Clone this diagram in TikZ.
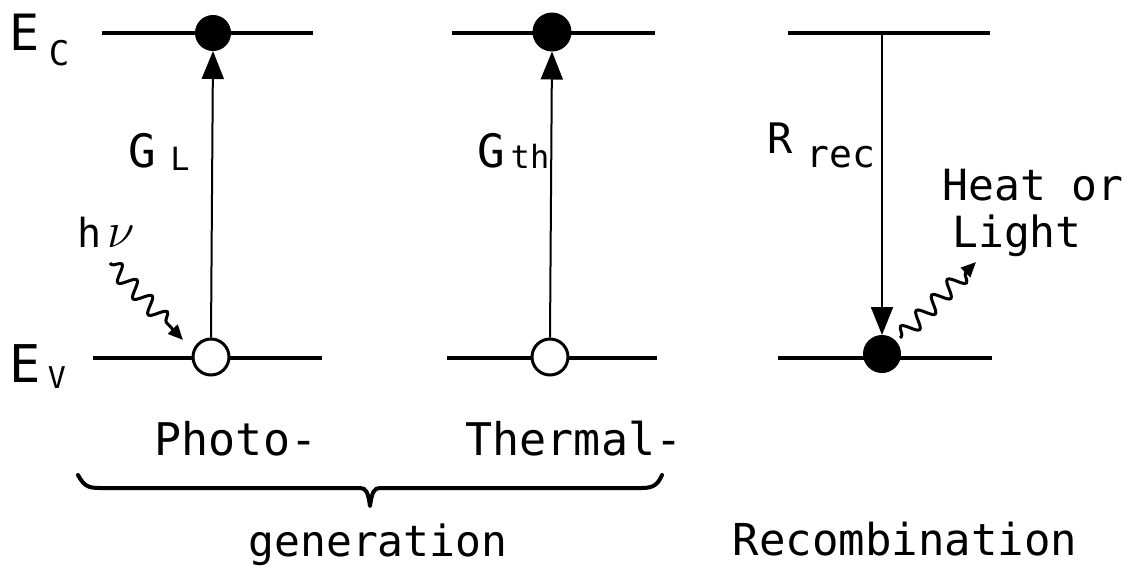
\RequirePackage{fix-cm}
\documentclass[tikz,border=0pt]{standalone}
\usepackage{fontspec}
\setmainfont{DejaVu Sans Mono}
\usetikzlibrary{arrows.meta,decorations.pathmorphing}
\newcommand{\fsz}[1]{\fontsize{#1}{#1}\selectfont}
\tikzset{
  band/.style={line width=3.8pt},
  trans/.style={line width=2pt, -{Triangle[length=28pt,width=22pt]}},
  elec/.style={circle, fill=black, draw=black, line width=1pt, inner sep=0pt, minimum size=#1},
  hole/.style={circle, fill=white, draw=black, line width=3pt, inner sep=0pt, minimum size=#1},
  lbl/.style={inner sep=0pt, anchor=base},
  wave/.style={decorate, decoration={snake, segment length=22pt, amplitude=8pt, pre length=2pt, post length=14pt}, line width=3pt, -{Triangle[length=15pt,width=13pt]}},
  bracepath/.style={line width=4pt, line cap=round, line join=round}
}
\begin{document}
\begin{tikzpicture}[x=1pt,y=-1pt]
\useasboundingbox (0,0) rectangle (1127,571);
% bands
\coordinate (c1l) at (102,33); \coordinate (c1r) at (313,33);
\coordinate (v1l) at (93,358);  \coordinate (v1r) at (322,358);
\coordinate (c2l) at (452,33); \coordinate (c2r) at (655,33);
\coordinate (v2l) at (447,358); \coordinate (v2r) at (657,358);
\coordinate (c3l) at (788,33); \coordinate (c3r) at (990,33);
\coordinate (v3l) at (778,358); \coordinate (v3r) at (992,358);
\draw[band] (c1l) -- (c1r);
\draw[band] (v1l) -- (v1r);
\draw[band] (c2l) -- (c2r);
\draw[band] (v2l) -- (v2r);
\draw[band] (c3l) -- (c3r);
\draw[band] (v3l) -- (v3r);
% carriers
\node[elec=35pt] (e1) at (213,33) {};
\node[hole=36pt] (h1) at (211,357) {};
\node[elec=38pt] (e2) at (552,32) {};
\node[hole=36pt] (h2) at (550,357) {};
\node[elec=37pt] (e3) at (882,354) {};
\coordinate (r3) at (882,33);
% transitions
\draw[trans] (h1.north) -- (e1.south);
\draw[trans] (h2.north) -- (e2.south);
\draw[trans] (r3) -- (e3.north);
% photons
\coordinate (w1s) at (110,263); \coordinate (w1e) at (183,340);
\coordinate (w2s) at (900,338); \coordinate (w2e) at (976,262);
\draw[wave] (w1s) -- (w1e);
\draw[wave] (w2s) -- (w2e);
% brace
\coordinate (bl) at (78,475); \coordinate (br) at (662,475); \coordinate (bt) at (370,506);
\draw[bracepath] (bl) .. controls (84,486) and (88,488) .. (100,488) -- (360,488)
  .. controls (366,488) and (368,492) .. (bt) .. controls (372,492) and (374,488) .. (380,488)
  -- (642,488) .. controls (654,488) and (658,484) .. (br);
% labels
\node[lbl] (Ec) at (25,50) {\fsz{50}E};
\node[lbl] (Ecs) at (59,65) {\fsz{34}C};
\node[lbl] (Ev) at (25,382) {\fsz{52}E};
\node[lbl] (Evs) at (57,388) {\fsz{30}V};
\node[lbl] (GL) at (142,167) {\fsz{46}G};
\node[lbl] (GLs) at (180,170) {\fsz{32}L};
\node[lbl] (h) at (90,247) {\fsz{40}h};
\node[lbl] (nu) at (121,247) {\fsz{50}$\nu$};
\node[lbl] (Gth) at (491,167) {\fsz{46}G};
\node[lbl] (Gths) at (530,168) {\fsz{32}th};
\node[lbl] (R) at (780,153) {\fsz{42}R};
\node[lbl] (Rs) at (841,167) {\fsz{38}rec};
\node[lbl] (heat) at (1033,200) {\fsz{43}Heat or};
\node[lbl] (light) at (1017,247) {\fsz{43}Light};
\node[lbl] (photo) at (236,455) {\fsz{45}Photo-};
\node[lbl] (thermal) at (574,455) {\fsz{45}Thermal-};
\node[lbl] (gen) at (378,556) {\fsz{43}generation};
\node[lbl] (rec) at (905,555) {\fsz{44}Recombination};
\end{tikzpicture}
\end{document}
